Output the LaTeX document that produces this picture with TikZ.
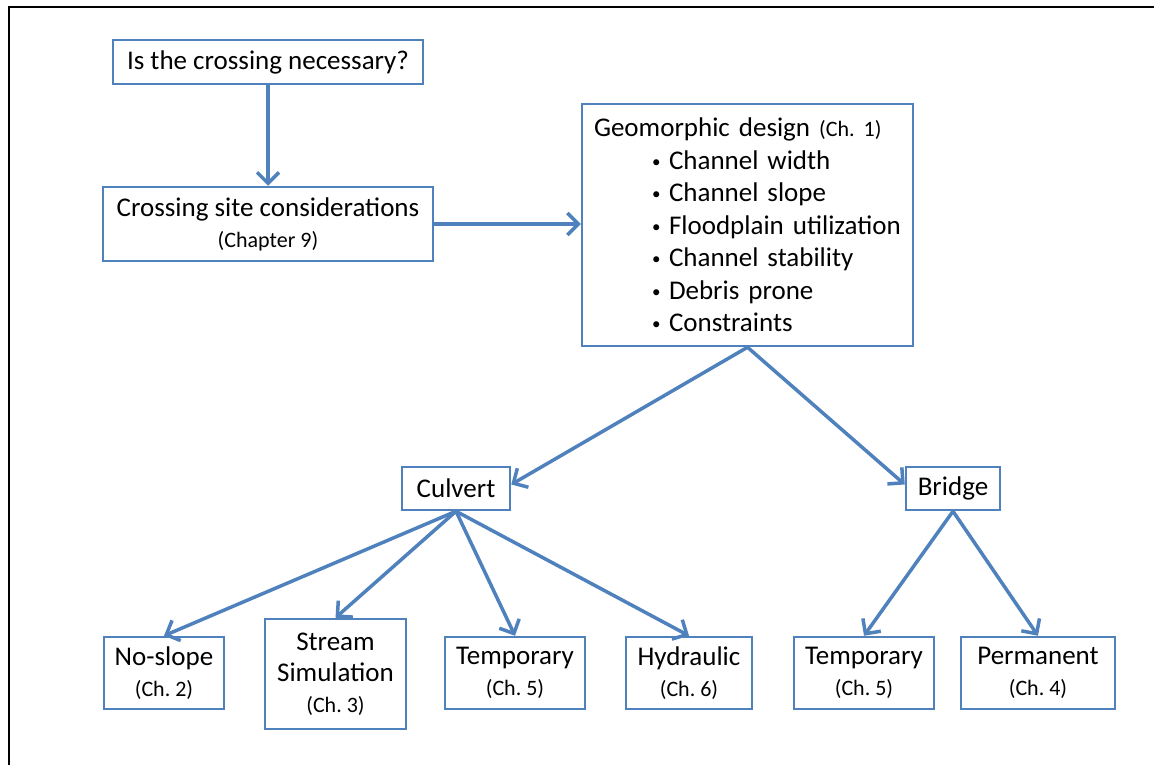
\documentclass[tikz,border=0pt]{standalone}
\usepackage{fontspec}
\setmainfont{Carlito}
\usetikzlibrary{arrows.meta}
\definecolor{boxblue}{HTML}{4F81BD}
\frenchspacing
\newcommand{\bigtxt}{\fontsize{27}{31}\selectfont}
\newcommand{\smtxt}{\fontsize{22}{31}\selectfont}
\newcommand{\bul}[1]{\hspace*{58pt}\makebox[17pt][l]{\raisebox{2pt}{\fontsize{17}{17}\selectfont\textbullet}}#1}
\begin{document}
\begin{tikzpicture}[x=1pt,y=-1pt,
  box/.style={draw=boxblue,line width=2.5pt,fill=white,inner sep=0pt,align=center,font=\bigtxt},
  arr/.style={draw=boxblue,line width=3.5pt,-{Straight Barb[length=11pt,width=22pt,line width=3.5pt]}}]
\useasboundingbox (0,0) rectangle (1154,765);
\draw[line width=2pt,black] (9,765) -- (9,7) -- (1154,7);
\node[box,minimum width=310pt,minimum height=44pt] (need) at (268,62) {Is the crossing necessary?};
\node[box,minimum width=330pt,minimum height=74pt] (site) at (268,224) {Crossing site considerations\\{\smtxt (Chapter 9)}};
\node[box,minimum width=331pt,minimum height=242pt,text width=307pt,align=left,font=\fontsize{27}{32.5}\selectfont] (geo) at (747.5,225)
 {Geomorphic design {\smtxt (Ch. 1)}\\
  \bul{Channel width}\\
  \bul{Channel slope}\\
  \bul{Floodplain utilization}\\
  \bul{Channel stability}\\
  \bul{Debris prone}\\
  \bul{Constraints}};
\node[box,minimum width=108pt,minimum height=43pt] (culvert) at (456,488.5) {Culvert};
\node[box,minimum width=94pt,minimum height=43pt] (bridge) at (953,488.5) {Bridge};
\node[box,minimum width=120pt,minimum height=72pt] (noslope) at (164,673) {No-slope\\{\smtxt (Ch. 2)}};
\node[box,minimum width=141pt,minimum height=110pt] (stream) at (335.5,674) {Stream\\Simulation\\{\smtxt (Ch. 3)}};
\node[box,minimum width=140pt,minimum height=72pt] (ctemp) at (515,673) {Temporary\\{\smtxt (Ch. 5)}};
\node[box,minimum width=126pt,minimum height=72pt] (hydr) at (689,673) {Hydraulic\\{\smtxt (Ch. 6)}};
\node[box,minimum width=140pt,minimum height=72pt] (btemp) at (864,673) {Temporary\\{\smtxt (Ch. 5)}};
\node[box,minimum width=154pt,minimum height=72pt] (perm) at (1038,673) {Permanent\\{\smtxt (Ch. 4)}};
\draw[arr] (need) -- (site);
\draw[arr] (site) -- (geo.west |- site);
\draw[arr] (geo.south) -- ([yshift=4pt]culvert.east);
\draw[arr] (geo.south) -- ([yshift=4pt]bridge.west);
\draw[arr] (culvert.south) -- (noslope.north);
\draw[arr] (culvert.south) -- (stream.north);
\draw[arr] (culvert.south) -- (ctemp.north);
\draw[arr] (culvert.south) -- (hydr.north);
\draw[arr] (bridge.south) -- (btemp.north);
\draw[arr] (bridge.south) -- (perm.north);
\end{tikzpicture}
\end{document}
